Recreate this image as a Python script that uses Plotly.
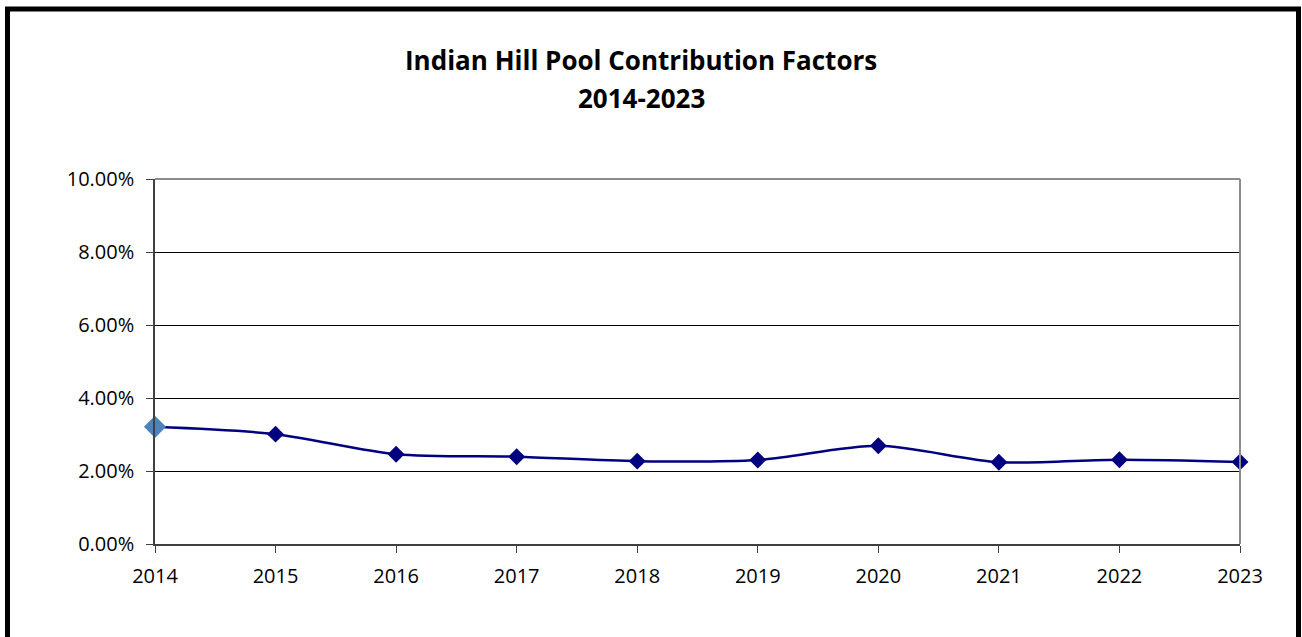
import plotly.graph_objects as go

years = [2014, 2015, 2016, 2017, 2018, 2019, 2020, 2021, 2022, 2023]
factors = [0.0321, 0.0301, 0.0246, 0.0239, 0.0227, 0.0230, 0.0269, 0.0224, 0.0231, 0.0225]
y_ticks = [0, 0.02, 0.04, 0.06, 0.08, 0.10]
y_tick_labels = ["0.00%", "2.00%", "4.00%", "6.00%", "8.00%", "10.00%"]
title_lines = ["Indian Hill Pool Contribution Factors", "2014-2023"]

W, H = 1302, 637
L, R, T, B = 155, 1240, 179, 544

marker_colors = ["#4F81BD"] + ["#000080"] * (len(years) - 1)
marker_sizes = [17] + [13] * (len(years) - 1)

fig = go.Figure()
fig.add_trace(go.Scatter(
    x=years, y=factors, mode="lines+markers", cliponaxis=False,
    line=dict(color="#000080", width=2.5, shape="spline", smoothing=0.8),
    marker=dict(symbol="diamond", color=marker_colors, size=marker_sizes,
                opacity=1, line=dict(width=0)),
    showlegend=False, hoverinfo="x+y",
))

font = "Open Sans, Liberation Sans, sans-serif"
fig.update_layout(
    width=W, height=H,
    margin=dict(l=L, r=W - R, t=T, b=H - B, pad=0),
    paper_bgcolor="white", plot_bgcolor="white",
    font=dict(family=font, size=20, color="black"),
    xaxis=dict(range=[2014, 2023], tickmode="array", tickvals=years,
               ticktext=[str(y) for y in years], showgrid=False,
               showline=True, linecolor="#404040", linewidth=1.5,
               ticks="outside", ticklen=7, tickcolor="#404040",
               tickwidth=1, ticklabelstandoff=6, zeroline=False,
               tickfont=dict(size=20, family=font, color="black")),
    yaxis=dict(range=[0, 0.10], tickmode="array", tickvals=y_ticks,
               ticktext=y_tick_labels, showgrid=True, gridcolor="black",
               gridwidth=1, showline=True, linecolor="#404040", linewidth=1.5,
               ticks="outside", ticklen=7, tickcolor="#404040", tickwidth=1,
               ticklabelstandoff=8, zeroline=False,
               tickfont=dict(size=20, family=font, color="black")),
)

# plot area top/right border (gray)
fig.add_shape(type="line", xref="paper", yref="paper", x0=0, x1=1, y0=1, y1=1,
              line=dict(color="#8c8c8c", width=2), layer="above")
fig.add_shape(type="line", xref="paper", yref="paper", x0=1, x1=1, y0=0, y1=1,
              line=dict(color="#8c8c8c", width=2), layer="above")

# outer chart frame (pixel coords converted to paper coords)
pw, ph = R - L, B - T
def px_x(p):
    return (p - L) / pw
def px_y(p):
    return (B - p) / ph
fig.add_shape(type="rect", xref="paper", yref="paper",
              x0=px_x(7.5), x1=px_x(1298.5), y0=px_y(700), y1=px_y(9),
              line=dict(color="black", width=5), fillcolor="rgba(0,0,0,0)",
              layer="above")

# title
fig.add_annotation(xref="paper", yref="paper", x=px_x(641), y=px_y(60),
                   text="<b>" + title_lines[0] + "</b>", showarrow=False,
                   font=dict(size=26, family=font, color="black"),
                   xanchor="center", yanchor="middle")
fig.add_annotation(xref="paper", yref="paper", x=px_x(641), y=px_y(98),
                   text="<b>" + title_lines[1] + "</b>", showarrow=False,
                   font=dict(size=26, family=font, color="black"),
                   xanchor="center", yanchor="middle")

fig.write_html("out.html",
               config={"displayModeBar": False},
               post_script="document.body.style.margin='0';"
                           "document.body.style.overflow='hidden';")
